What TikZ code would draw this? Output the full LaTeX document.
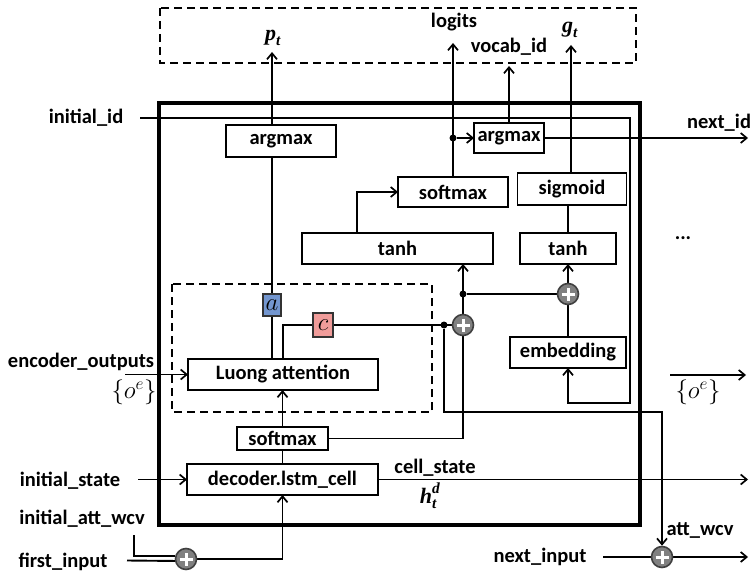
\documentclass[tikz,border=0pt]{standalone}
\usepackage{amsmath}
\usepackage{fontspec}
\setmainfont{Carlito}
\newfontfamily\mathser{Liberation Serif}
\newcommand{\mvar}[1]{\text{\mathser\bfseries\itshape #1}}
\usetikzlibrary{arrows.meta,backgrounds}
\definecolor{aBlue}{HTML}{7396CF}
\definecolor{cPink}{HTML}{F09C9A}
\begin{document}
\begin{tikzpicture}[x=1pt,y=-1pt,
  every node/.style={font=\fontsize{20.5}{24}\selectfont\bfseries},
  stdbox/.style={draw, line width=1.8pt, fill=white, inner sep=0pt, outer sep=0pt},
  conn/.style={line width=1.9pt},
  arr/.style={line width=1.9pt, -{Straight Barb[length=6pt,width=10pt,line width=1.7pt]}},
  pluscirc/.style={circle, draw=black!75, fill=black!50, line width=1.6pt, minimum size=21pt, inner sep=0pt,
    path picture={\draw[white,line width=3pt]
      ([xshift=-6.5pt]path picture bounding box.center) -- ([xshift=6.5pt]path picture bounding box.center)
      ([yshift=-6.5pt]path picture bounding box.center) -- ([yshift=6.5pt]path picture bounding box.center);}},
  junction/.style={circle, fill=black, minimum size=7pt, inner sep=0pt},
  lbl/.style={inner sep=0pt},
  mlbl/.style={inner sep=0pt, font=\fontsize{22}{24}\selectfont},
  dashbox/.style={line width=1.8pt, dash pattern=on 8pt off 5pt},
]
\useasboundingbox (0,0) rectangle (751,572);

% boxes
\node[stdbox, minimum width=110pt, minimum height=32pt] (argL) at (281,141) {argmax};
\node[stdbox, minimum width=70pt, minimum height=30pt] (argR) at (509,138) {argmax};
\node[stdbox, minimum width=110pt, minimum height=30pt] (smxU) at (453,192) {softmax};
\node[stdbox, minimum width=191pt, minimum height=31pt] (tanhL) at (397.5,248.5) {tanh};
\node[stdbox, minimum width=109pt, minimum height=32pt] (sig) at (572,189) {sigmoid};
\node[stdbox, minimum width=96pt, minimum height=31pt] (tanhR) at (568,248.5) {tanh};
\node[stdbox, minimum width=116pt, minimum height=31pt] (emb) at (568,352.5) {embedding};
\node[stdbox, minimum width=190pt, minimum height=31pt] (luong) at (283,374.5) {Luong attention};
\node[stdbox, minimum width=91pt, minimum height=23pt] (smxL) at (282.5,438.5) {softmax};
\node[stdbox, minimum width=191pt, minimum height=31pt] (dec) at (282.5,479.5) {decoder.lstm\_cell};
\node[draw=black!80, fill=aBlue, line width=1.4pt, minimum width=18pt, minimum height=22pt, inner sep=0pt, font=\fontsize{32}{32}\selectfont] (abox) at (272,305) {$a$};
\node[draw=black!80, fill=cPink, line width=1.4pt, minimum width=20pt, minimum height=24pt, inner sep=0pt, font=\fontsize{32}{32}\selectfont] (cbox) at (323,325) {$c$};

% plus circles and junctions
\node[pluscirc] (p1) at (463,325) {};
\node[pluscirc] (p2) at (568,294) {};
\node[pluscirc] (fp) at (186,559) {};
\node[pluscirc] (np) at (662,557) {};
\node[junction] (d1) at (463,294) {};
\node[junction] (d2) at (444,325) {};
\node[junction] (d3) at (453,138) {};

% labels
\node[lbl] (tIid) at (86,118) {initial\_id};
\node[lbl, anchor=west] (tNid) at (687,123) {next\_id};
\node[lbl] (tEnc) at (81,362) {encoder\_outputs};
\node[lbl, font=\fontsize{23}{26}\selectfont] (tOeL) at (134,392) {$\{o^e\}$};
\node[lbl, font=\fontsize{23}{26}\selectfont] (tOeR) at (698,392) {$\{o^e\}$};
\node[lbl] (tIst) at (70,481) {initial\_state};
\node[lbl] (tIaw) at (82,519) {initial\_att\_wcv};
\node[lbl] (tFin) at (63,562) {first\_input};
\node[lbl] (tCs) at (435,468) {cell\_state};
\node[mlbl] (tHd) at (430,496) {$\mvar{h}_{\mvar{t}}^{\mvar{d}}$};
\node[lbl] (tDots) at (683,238) {...};
\node[lbl] (tAw) at (700,530) {att\_wcv};
\node[lbl] (tNin) at (540,557) {next\_input};
\node[mlbl] (tPt) at (273,38) {$\mvar{p}_{\mvar{t}}$};
\node[lbl] (tLg) at (454,22) {logits};
\node[lbl] (tVc) at (509,47) {vocab\_id};
\node[mlbl] (tGt) at (570,30) {$\mvar{g}_{\mvar{t}}$};

% free ends
\coordinate (iidS) at (140,118);
\coordinate (ptE) at (272,52);
\coordinate (lgE) at (453,43);
\coordinate (vcE) at (509,66);
\coordinate (gtE) at (571,45);
\coordinate (nidE) at (748,138);
\coordinate (encS) at (125,374.5);
\coordinate (isS) at (138,479.5);
\coordinate (csE) at (748,479.5);
\coordinate (fiS) at (127,560.5);
\coordinate (awS) at (134,535);
\coordinate (niS) at (603,557);
\coordinate (niE) at (748,557);
\coordinate (oeS) at (670,375);
\coordinate (oeE) at (746,375);
\coordinate (ncC) at (662,412);
\coordinate (ebC) at (630,403);

\begin{scope}[on background layer]
\draw[line width=4.5pt] (159,103) rectangle (640,525);
\draw[dashbox] (160,8) rectangle (636,63);
\draw[dashbox] (172,284) rectangle (432,412);

\draw[arr] (iidS) -| (ebC) -| (emb.south);
\draw[arr] (abox.center |- luong.north) -- (ptE);
\draw[arr] (smxU.north) -- (lgE);
\draw[arr] (d3) -- (argR.west);
\draw[arr] (argR.north) -- (vcE);
\draw[arr] (gtE |- sig.north) -- (gtE);
\draw[arr] (argR.east) -- (nidE);
\draw[conn] (sig.south -| tanhR.north) -- (tanhR.north);
\draw[arr] (p2) -- (tanhR.south);
\draw[conn] (emb.north) -- (p2);
\draw[conn] (d1) -- (p2);
\draw[arr] (p1) -- (p1 |- tanhL.south);
\draw[arr] (tanhL.north -| 357,0) |- (smxU.west);
\draw[conn] (cbox.east) -- (p1);
\draw[conn] (cbox.west) -| (luong.north);
\draw[arr] (d2) |- (ncC) -- (np);
\draw[conn] (smxL.east) -| (p1);
\draw[arr] (smxL.north) -- (smxL.north |- luong.south);
\draw[conn] (dec.north) -- (dec.north |- smxL.south);
\draw[arr] (encS) -- (luong.west);
\draw[arr] (isS) -- (dec.west);
\draw[arr] (dec.east) -- (csE);
\draw[conn] (fiS) -- (fp.190);
\draw[conn] (awS) |- (fp.165);
\draw[arr] (fp) -| (dec.south);
\draw[conn] (niS) -- (np);
\draw[arr] (np) -- (niE);
\draw[arr] (oeS) -- (oeE);
\end{scope}
\end{tikzpicture}
\end{document}
